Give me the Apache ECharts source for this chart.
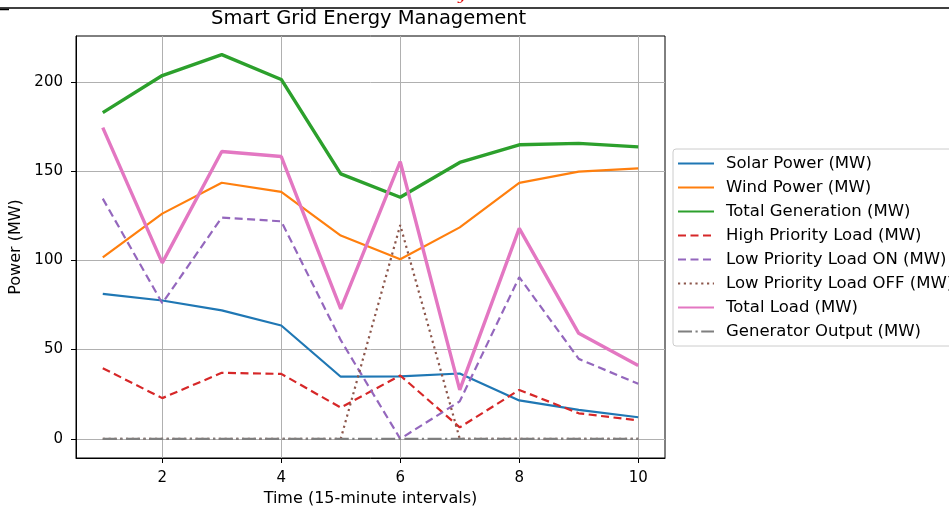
<!DOCTYPE html>
<html>
<head>
<meta charset="utf-8">
<script src="https://cdn.jsdelivr.net/npm/echarts@6/dist/echarts.min.js"></script>
<style>
html,body{margin:0;padding:0;background:#fff;}
#chart{width:949px;height:506px;}
</style>
</head>
<body>
<div id="chart"></div>
<script>
const time = [1, 2, 3, 4, 5, 6, 7, 8, 9, 10];
const solarPower = [81.2, 77.5, 72.0, 63.5, 34.8, 35.0, 36.6, 21.5, 16.2, 12.1];
const windPower = [101.7, 126.2, 143.5, 138.4, 113.9, 100.6, 118.5, 143.4, 149.7, 151.6];
const totalGeneration = [182.8, 203.6, 215.3, 201.4, 148.5, 135.4, 154.9, 164.8, 165.6, 163.6];
const highPriorityLoad = [39.6, 22.8, 37.0, 36.4, 17.5, 35.5, 6.4, 27.4, 14.3, 10.3];
const lowPriorityOn = [134.6, 76.0, 124.0, 121.9, 55.3, 0, 21.0, 90.6, 44.8, 30.8];
const lowPriorityOff = [0, 0, 0, 0, 0, 119.8, 0, 0, 0, 0];
const totalLoad = [174.4, 98.6, 161.0, 158.2, 72.8, 155.3, 27.4, 117.9, 59.1, 41.1];
const generatorOutput = [0, 0, 0, 0, 0, 0, 0, 0, 0, 0];
const xTicks = [2, 4, 6, 8, 10];
const yTicks = [0, 50, 100, 150, 200];

const FONT = 'DejaVu Sans';
const pairs = ys => time.map((t, i) => [t, ys[i]]);

function mk(name, ys, color, width, type) {
  return {
    name: name, type: 'line', data: pairs(ys), symbol: 'none',
    lineStyle: {color: color, width: width, type: type, cap: 'butt'},
    itemStyle: {color: color},
    emphasis: {disabled: true}
  };
}

const chart = echarts.init(document.getElementById('chart'), null, {renderer: 'canvas'});
chart.setOption({
  animation: false,
  backgroundColor: '#fff',
  title: {
    text: 'Smart Grid Energy Management',
    left: 206, top: 4,
    textStyle: {fontFamily: FONT, fontSize: 19.5, fontWeight: 'normal', color: '#000'}
  },
  graphic: [
    {type: 'line', shape: {x1: 0, y1: 8, x2: 949, y2: 8}, style: {stroke: '#000', lineWidth: 1.5}},
    {type: 'line', shape: {x1: 0, y1: 9.5, x2: 9, y2: 9.5}, style: {stroke: '#000', lineWidth: 1.5}},
    {type: 'text', x: 458, y: -11, style: {text: 'y', fill: '#e00000', font: 'italic 15px "DejaVu Serif"'}}
  ],
  grid: {left: 76, top: 36, width: 589, height: 422, show: true, borderColor: '#000', borderWidth: 1,
    containLabel: false, outerBoundsMode: 'none'},
  legend: {
    orient: 'vertical', left: 673, top: 149,
    padding: [6, 40, 6, 4],
    itemWidth: 36, itemHeight: 14, itemGap: 7,
    itemStyle: {opacity: 0},
    backgroundColor: 'rgba(255,255,255,0.8)', borderColor: '#cccccc', borderWidth: 1, borderRadius: 3,
    textStyle: {fontFamily: FONT, fontSize: 16.5, lineHeight: 16, color: '#000', padding: [0, 0, 0, 7]},
    data: ['Solar Power (MW)', 'Wind Power (MW)', 'Total Generation (MW)', 'High Priority Load (MW)',
      'Low Priority Load ON (MW)', 'Low Priority Load OFF (MW)', 'Total Load (MW)', 'Generator Output (MW)']
  },
  xAxis: {
    type: 'value', min: 0.55, max: 10.45,
    name: 'Time (15-minute intervals)', nameLocation: 'middle', nameGap: 33,
    nameTextStyle: {fontFamily: FONT, fontSize: 16, color: '#000'},
    axisLine: {show: true, onZero: false, lineStyle: {color: '#000', width: 1}},
    axisTick: {show: true, length: 5, lineStyle: {color: '#000'}, customValues: xTicks},
    axisLabel: {fontFamily: FONT, fontSize: 15, color: '#000', margin: 13, customValues: xTicks},
    splitLine: {show: true, lineStyle: {color: '#b0b0b0', width: 1}}
  },
  yAxis: {
    type: 'value', min: -10.75, max: 225.75,
    name: 'Power (MW)', nameLocation: 'middle', nameGap: 51,
    nameTextStyle: {fontFamily: FONT, fontSize: 16, color: '#000'},
    axisLine: {show: true, onZero: false, lineStyle: {color: '#000', width: 1}},
    axisTick: {show: true, length: 5, lineStyle: {color: '#000'}, customValues: yTicks},
    axisLabel: {fontFamily: FONT, fontSize: 15, color: '#000', margin: 13, customValues: yTicks},
    splitLine: {show: true, lineStyle: {color: '#b0b0b0', width: 1}}
  },
  series: [
    mk('Solar Power (MW)', solarPower, '#1f77b4', 2.2, 'solid'),
    mk('Wind Power (MW)', windPower, '#ff7f0e', 2.2, 'solid'),
    mk('Total Generation (MW)', totalGeneration, '#2ca02c', 3.4, 'solid'),
    mk('High Priority Load (MW)', highPriorityLoad, '#d62728', 2.2, [8, 4.5]),
    mk('Low Priority Load ON (MW)', lowPriorityOn, '#9467bd', 2.2, [8, 4.5]),
    mk('Low Priority Load OFF (MW)', lowPriorityOff, '#8c564b', 2.2, [2.2, 3.6]),
    mk('Total Load (MW)', totalLoad, '#e377c2', 3.4, 'solid'),
    mk('Generator Output (MW)', generatorOutput, '#7f7f7f', 2.2, [14, 3.5, 2.2, 3.5])
  ]
});
</script>
</body>
</html>
